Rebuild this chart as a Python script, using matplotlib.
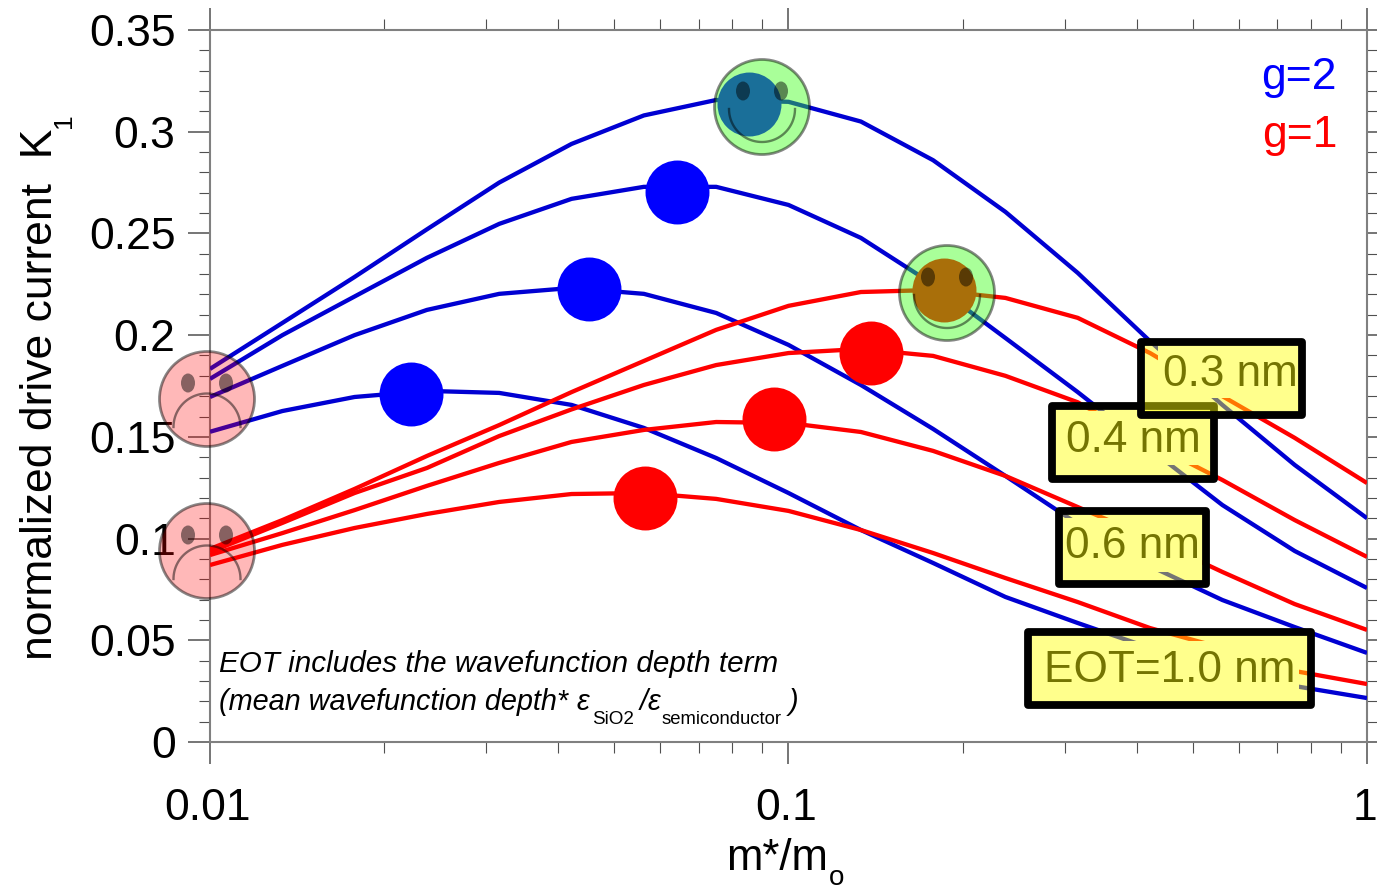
"""Normalized drive current K1 against effective mass, for several EOT values and valley degeneracies."""
import matplotlib
matplotlib.use("Agg")
import matplotlib.pyplot as plt
import numpy as np
from matplotlib.patches import Circle, Ellipse, Rectangle
from matplotlib.ticker import FixedLocator, NullFormatter
from matplotlib.transforms import ScaledTranslation

plt.rcParams["font.family"] = ["Liberation Sans", "DejaVu Sans"]

W, H = 1377, 889

# effective mass grid
mass = [0.01, 0.01334, 0.01778, 0.02371, 0.03162, 0.04217, 0.05623, 0.07499, 0.1,
        0.1334, 0.1778, 0.2371, 0.3162, 0.4217, 0.5623, 0.7499, 1.0]

# g=2 curves, EOT 0.3 / 0.4 / 0.6 / 1.0 nm
g2_03 = [0.1834, 0.206, 0.2286, 0.252, 0.275, 0.294, 0.308, 0.3156, 0.3147,
         0.305, 0.286, 0.2606, 0.2306, 0.197, 0.1657, 0.1362, 0.110]
g2_04 = [0.1785, 0.2, 0.219, 0.238, 0.2547, 0.267, 0.2729, 0.2729, 0.264,
         0.2478, 0.225, 0.1986, 0.172, 0.144, 0.1165, 0.0939, 0.0757]
g2_06 = [0.1696, 0.1849, 0.2, 0.2124, 0.2203, 0.2232, 0.2203, 0.2109, 0.1952,
         0.1755, 0.1539, 0.1308, 0.1072, 0.0865, 0.0698, 0.0565, 0.0438]
g2_10 = [0.1525, 0.1627, 0.1696, 0.1726, 0.1716, 0.1657, 0.1544, 0.1396, 0.1224,
         0.1042, 0.088, 0.0713, 0.0585, 0.0462, 0.0349, 0.0275, 0.0216]

# g=1 curves, EOT 0.3 / 0.4 / 0.6 / 1.0 nm
g1_03 = [0.0949, 0.1091, 0.1244, 0.1406, 0.1558, 0.172, 0.1873, 0.2026, 0.2144,
         0.2212, 0.2222, 0.2183, 0.2085, 0.1912, 0.170, 0.1495, 0.1273]
g1_04 = [0.0934, 0.1077, 0.1224, 0.1347, 0.1504, 0.1635, 0.1755, 0.1853, 0.1912,
         0.1932, 0.1898, 0.18, 0.167, 0.147, 0.1288, 0.1091, 0.091]
g1_06 = [0.0919, 0.1027, 0.114, 0.1259, 0.1372, 0.1475, 0.1534, 0.1573, 0.1568,
         0.1524, 0.1431, 0.1308, 0.1155, 0.1003, 0.0836, 0.0678, 0.0551]
g1_10 = [0.087, 0.0969, 0.1052, 0.1121, 0.118, 0.1219, 0.1224, 0.1195, 0.1136,
         0.1042, 0.0929, 0.0806, 0.0688, 0.056, 0.0462, 0.0349, 0.0285]

# optimum mass markers
peak_x_g2 = [0.02225, 0.0452, 0.0642, 0.0855]
peak_y_g2 = [0.1711, 0.2227, 0.2704, 0.3137]
peak_x_g1 = [0.0565, 0.0944, 0.1389, 0.1857]
peak_y_g1 = [0.12, 0.1588, 0.1912, 0.2222]

y_ticks = [0, 0.05, 0.1, 0.15, 0.2, 0.25, 0.3, 0.35]
y_tick_labels = ["0", "0.05", "0.1", "0.15", "0.2", "0.25", "0.3", "0.35"]
y_minor = [0.01, 0.02, 0.03, 0.04, 0.06, 0.07, 0.08, 0.09, 0.11, 0.12, 0.13, 0.14,
           0.16, 0.17, 0.18, 0.19, 0.21, 0.22, 0.23, 0.24, 0.26, 0.27, 0.28, 0.29,
           0.31, 0.32, 0.33, 0.34]
x_ticks = [0.01, 0.1, 1]
x_tick_labels = ["0.01", "0.1", "1"]

BLUE_LINE = "#0000d2"
FACE_GOOD = (0.24, 1.0, 0.09, 0.44)
FACE_BAD = (1.0, 0.0, 0.0, 0.28)
SHADE = (0, 0, 0, 0.47)
YELLOW = (1.0, 1.0, 0.02, 0.46)

fig = plt.figure(figsize=(W / 100, H / 100), dpi=100)
ax = fig.add_axes([210 / W, 1 - 742 / H, (1367 - 210) / W, (742 - 30) / H])
ax.set_xscale("log")
ax.set_xlim(0.01, 1)
ax.set_ylim(0, 0.35)

for curve in (g2_03, g2_04, g2_06, g2_10):
    ax.plot(mass, curve, color=BLUE_LINE, lw=3.1, solid_capstyle="butt", zorder=3)
for curve in (g1_03, g1_04, g1_06, g1_10):
    ax.plot(mass, curve, color="#ff0000", lw=3.1, solid_capstyle="butt", zorder=3)
ax.scatter(peak_x_g2, peak_y_g2, s=2120, color="#0000ff", linewidths=0, zorder=4)
ax.scatter(peak_x_g1, peak_y_g1, s=2120, color="#ff0000", linewidths=0, zorder=4)

ax.set_xticks(x_ticks)
ax.set_xticklabels(x_tick_labels, fontsize=32)
ax.xaxis.set_minor_locator(FixedLocator([m * d for d in (0.01, 0.1) for m in range(2, 10)]))
ax.xaxis.set_minor_formatter(NullFormatter())
ax.set_yticks(y_ticks)
ax.set_yticklabels(y_tick_labels, fontsize=32)
ax.set_yticks(y_minor, minor=True)
ax.tick_params(axis="both", which="both", direction="out", top=True, right=True, color="#505050")
ax.tick_params(axis="both", which="major", length=15.8, width=1.1)
ax.tick_params(axis="both", which="minor", length=7.9, width=0.8)
ax.tick_params(axis="x", which="major", pad=17)
ax.tick_params(axis="y", which="major", pad=9)
for spine in ax.spines.values():
    spine.set_color("#808080")
    spine.set_linewidth(1.5)

# x labels sit slightly left of their ticks in the original
nudge = ScaledTranslation(-2 / 100, 0, fig.dpi_scale_trans)
for lab in ax.get_xticklabels():
    lab.set_transform(lab.get_transform() + nudge)

# everything below is placed in picture pixels on a transparent overlay
over = fig.add_axes([0, 0, 1, 1])
over.set_xlim(0, W)
over.set_ylim(H, 0)
over.axis("off")
over.patch.set_alpha(0)


def face(cx, cy, fill, happy):
    over.add_patch(Circle((cx, cy), 47.5, facecolor=fill, edgecolor="none"))
    over.add_patch(Circle((cx, cy), 47.5, facecolor="none", edgecolor=SHADE, lw=2))
    for dx in (-19, 19):
        over.add_patch(Ellipse((cx + dx, cy - 16), 14, 19, facecolor=SHADE, edgecolor="none"))
    if happy:
        t = np.linspace(0, np.pi, 60)
        over.plot(cx + 33 * np.cos(t), cy + 2 + 33 * np.sin(t), color=SHADE, lw=1.7)
    else:
        t = np.linspace(np.pi, 2 * np.pi, 60)
        over.plot(cx + 33.5 * np.cos(t), cy + 28 + 33.5 * np.sin(t), color=SHADE, lw=1.7)


face(762, 107, FACE_GOOD, True)
face(947, 293, FACE_GOOD, True)
face(207, 399, FACE_BAD, False)
face(207, 551, FACE_BAD, False)

box_z = [10]


def eot_box(label, text_x, text_y, clear, inner):
    # clear hides the curves behind the text, the yellow box sits on top of it
    z = box_z[0]
    box_z[0] += 3
    x0, y0, x1, y1 = clear
    over.add_patch(Rectangle((x0, y0), x1 - x0, y1 - y0, facecolor="white", edgecolor="none", zorder=z))
    over.text(text_x, text_y, label, fontsize=31.8, color="black", ha="left", va="center", zorder=z + 1)
    x0, y0, x1, y1 = inner
    over.add_patch(Rectangle((x0 - 4, y0 - 4), x1 - x0 + 8, y1 - y0 + 8, zorder=z + 2,
                             facecolor=YELLOW, edgecolor="black", lw=5.6, joinstyle="round"))


eot_box("EOT=1.0 nm", 1044, 670, (1032, 641, 1299, 701), (1032, 636, 1307, 701))
eot_box("0.6 nm", 1065, 547, (1063, 518, 1202, 572), (1063, 515, 1202, 580))
eot_box("0.4 nm", 1066, 441, (1056, 411, 1210, 465), (1056, 410, 1210, 475))
eot_box("0.3 nm", 1163, 374, (1158, 346, 1298, 398), (1145, 346, 1298, 411))

over.text(1337, 77, "g=2", fontsize=32, color="#0000ff", ha="right", va="center")
over.text(1337, 135, "g=1", fontsize=32, color="#ff0000", ha="right", va="center")

over.text(41, 660, "normalized drive current  K", fontsize=32, rotation=90, ha="center", va="bottom")
over.text(64, 121, "1", fontsize=19, rotation=90, ha="center", va="center")
over.text(726, 858, "m*/m", fontsize=31.5, ha="left", va="center")
over.text(829, 885, "o", fontsize=20, ha="left", va="baseline")

note = dict(style="italic", va="baseline")
over.text(219, 672, "EOT includes the wavefunction depth term", ha="left", fontsize=21.3, **note)
over.text(219, 710, "(mean wavefunction depth*", ha="left", fontsize=20.8, **note)
over.text(577, 710, "ε", ha="left", fontsize=20.8, **note)
over.text(592, 724, "SiO2", ha="left", va="baseline", fontsize=13.6)
over.text(640, 710, "/", ha="left", fontsize=20.8, **note)
over.text(648, 710, "ε", ha="left", fontsize=20.8, **note)
over.text(662, 724, "semiconductor", ha="left", va="baseline", fontsize=13.3)
over.text(789, 710, ")", ha="left", fontsize=20.8, **note)

fig.savefig("out.png", dpi=100)
